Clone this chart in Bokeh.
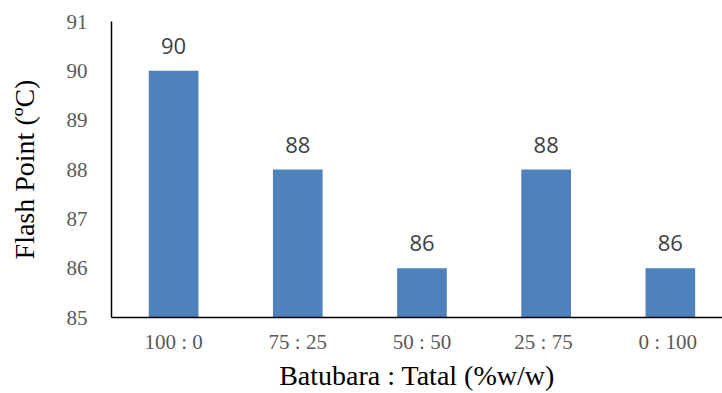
from bokeh.plotting import figure
from bokeh.models import Range1d, FixedTicker, ColumnDataSource
from bokeh.core.properties import value
from bokeh.embed import file_html
from bokeh.resources import INLINE

# Flash point of coal : wood-chip blends
categories = ["100 : 0", "75 : 25", "50 : 50", "25  : 75", "0  : 100"]
flash_point = [90, 88, 86, 88, 86]
y_ticks = [85, 86, 87, 88, 89, 90, 91]

positions = list(range(len(categories)))
source = ColumnDataSource(data=dict(
    x=positions,
    top=flash_point,
    label=[str(v) for v in flash_point],
))

p = figure(
    width=722, height=393,
    x_range=Range1d(-0.5, 4.42),
    y_range=Range1d(85, 91),
    output_backend="svg", toolbar_location=None,
    min_border_left=111, min_border_right=0,
    min_border_top=21, min_border_bottom=75,
)
p.outline_line_color = None
p.xgrid.grid_line_color = None
p.ygrid.grid_line_color = None

p.vbar(x="x", top="top", bottom=85, width=0.4, source=source,
       fill_color="#4F81BD", line_color=None)

p.text(x="x", y="top", text="label", source=source,
       text_align="center", text_baseline="alphabetic", y_offset=-25,
       text_font=value("Open Sans"), text_font_size="22px", text_color="#404040")

# x axis
p.xaxis.ticker = FixedTicker(ticks=positions)
p.xaxis.major_label_overrides = {i: c for i, c in enumerate(categories)}
p.xaxis.axis_label = "Batubara : Tatal (%w/w)"
p.xaxis.axis_line_color = "black"
p.xaxis.axis_line_width = 1.5
p.xaxis.major_tick_line_color = None
p.xaxis.minor_tick_line_color = None
p.xaxis.major_label_standoff = 6
p.xaxis.axis_label_standoff = 3
p.xaxis.major_label_text_font = "Liberation Serif"
p.xaxis.major_label_text_font_size = "21px"
p.xaxis.major_label_text_color = "#595959"
p.xaxis.axis_label_text_font = "Liberation Serif"
p.xaxis.axis_label_text_font_size = "28px"
p.xaxis.axis_label_text_font_style = "normal"
p.xaxis.axis_label_text_color = "black"

# y axis
p.yaxis.ticker = FixedTicker(ticks=y_ticks)
p.yaxis.axis_label = "Flash Point (ºC)"
p.yaxis.axis_line_color = "black"
p.yaxis.axis_line_width = 1.5
p.yaxis.major_tick_line_color = None
p.yaxis.minor_tick_line_color = None
p.yaxis.major_label_standoff = 18
p.yaxis.axis_label_standoff = 24
p.yaxis.major_label_text_font = "Liberation Serif"
p.yaxis.major_label_text_font_size = "21px"
p.yaxis.major_label_text_color = "#595959"
p.yaxis.axis_label_text_font = "Liberation Serif"
p.yaxis.axis_label_text_font_size = "28px"
p.yaxis.axis_label_text_font_style = "normal"
p.yaxis.axis_label_text_color = "black"

open("out.html", "w").write(file_html(p, INLINE))
